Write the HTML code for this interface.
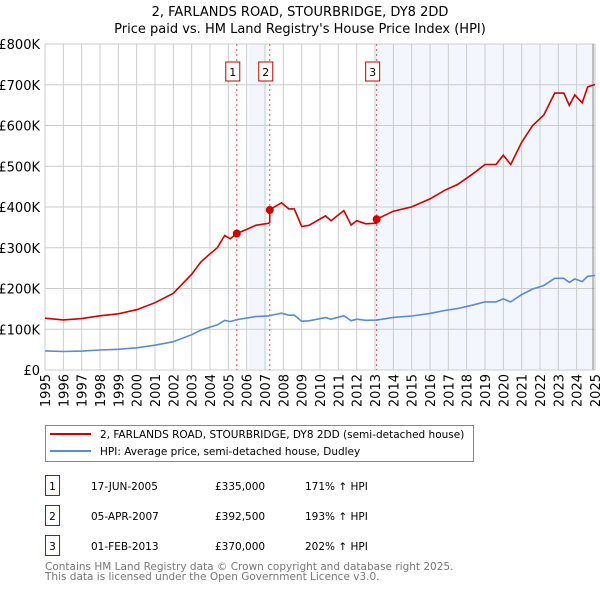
<!DOCTYPE html>
<html><head><meta charset="utf-8"><style>
body{margin:0;background:#fff;font-family:"DejaVu Sans","Liberation Sans",sans-serif;}
#wrap{position:relative;width:600px;height:590px;overflow:hidden;}
svg text{font-family:"DejaVu Sans","Liberation Sans",sans-serif;}
</style></head><body>
<div id="wrap">
<svg id="chart" width="600" height="590"></svg>
</div>
<script>
const yTicks=[0,100,200,300,400,500,600,700,800];
const yTickLabels=["£0","£100K","£200K","£300K","£400K","£500K","£600K","£700K","£800K"];
const years=[1995,1996,1997,1998,1999,2000,2001,2002,2003,2004,2005,2006,2007,2008,2009,2010,2011,2012,2013,2014,2015,2016,2017,2018,2019,2020,2021,2022,2023,2024,2025];
const hpiT=[1995,1996,1997,1998,1999,2000,2001,2002,2003,2003.5,2004,2004.4,2004.8,2005.1,2005.46,2006,2006.5,2007.2,2007.5,2007.9,2008.3,2008.6,2009.0,2009.4,2010.3,2010.6,2011.3,2011.7,2012,2012.5,2013.09,2014,2015,2016,2016.8,2017.5,2018.3,2019,2019.6,2020,2020.4,2021,2021.6,2022.2,2022.8,2023.3,2023.6,2023.9,2024.3,2024.6,2025];
const hpiV=[46.9,45.4,46.5,49.1,50.9,54.6,60.9,69.4,86.7,97.8,105.2,110.7,121.8,118.8,123.6,127.3,131,132.8,136,139.5,134.4,134.4,119.7,120.7,128.6,124.6,133,121,124.6,122,122.5,129,132.5,139,146,150.7,159,167,167,174.5,167,185,198.7,207,225,225,215,223.5,217,230,232];
const saleT=[2005.46,2007.26,2013.09];
const saleV=[335,392.5,370];
const saleLabels=["1","2","3"];
const saleDates=["17-JUN-2005","05-APR-2007","01-FEB-2013"];
const salePrices=["£335,000","£392,500","£370,000"];
const salePct=["171% ↑ HPI","193% ↑ HPI","202% ↑ HPI"];

const X0=45,X1=595,Y0=370,Y1=44;
const xs=t=>X0+(t-1995)/(2025-1995)*(X1-X0);
const ys=v=>Y0-v/800*(Y0-Y1);
const svg=document.getElementById('chart');
const NS='http://www.w3.org/2000/svg';
function mk(tag,at,txt){const e=document.createElementNS(NS,tag);for(const k in at)e.setAttribute(k,at[k]);if(txt!==undefined)e.textContent=txt;svg.appendChild(e);return e;}
function hpiAt(t){for(let i=0;i<hpiT.length-1;i++){if(t<=hpiT[i+1]){const f=(t-hpiT[i])/(hpiT[i+1]-hpiT[i]);return hpiV[i]+f*(hpiV[i+1]-hpiV[i]);}}return hpiV[hpiV.length-1];}

let e;
e=mk('text',{x:300,y:16,'text-anchor':'middle','font-size':13,fill:'#000'},'2, FARLANDS ROAD, STOURBRIDGE, DY8 2DD');

e=mk('text',{x:300,y:33,'text-anchor':'middle','font-size':13,fill:'#000'},"Price paid vs. HM Land Registry's House Price Index (HPI)");


e=mk('rect',{x:xs(2006.1),y:Y1,width:xs(2007.1)-xs(2006.1),height:Y0-Y1,fill:'#eef2fb',opacity:0.7});

e=mk('rect',{x:xs(saleT[2]),y:Y1,width:X1-xs(saleT[2]),height:Y0-Y1,fill:'#eef2fb',opacity:0.7});


yTicks.forEach((v,i)=>{
  e=mk('line',{x1:X0,x2:X1,y1:ys(v),y2:ys(v),stroke:'#cccccc','stroke-width':1});
  
  e=mk('text',{x:40,y:ys(v)+5,'text-anchor':'end','font-size':13,fill:'#000'},yTickLabels[i]);
  
});
years.forEach(y=>{
  e=mk('line',{x1:xs(y),x2:xs(y),y1:Y1,y2:Y0,stroke:'#cccccc','stroke-width':1});
  
  e=mk('text',{x:0,y:0,'text-anchor':'end','font-size':13,fill:'#000',transform:`translate(${xs(y)+5},374) rotate(-90)`},String(y));
  
});
e=mk('line',{x1:X1-2,x2:X1-2,y1:Y1,y2:Y0,stroke:'#888','stroke-width':1});


saleT.forEach((t,i)=>{
  e=mk('line',{x1:xs(t),x2:xs(t),y1:Y1,y2:Y0,stroke:'#e05050','stroke-width':1,'stroke-dasharray':'2,3'});
  
  e=mk('rect',{x:xs(t)-11,y:62,width:14,height:19,fill:'#fff',stroke:'#c00000','stroke-width':1});
  
  e=mk('text',{x:xs(t)-4,y:76,'text-anchor':'middle','font-size':11,fill:'#000'},saleLabels[i]);
  
});

let d='';hpiT.forEach((t,i)=>{d+=(i?'L':'M')+xs(t).toFixed(1)+','+ys(hpiV[i]).toFixed(1);});
e=mk('path',{d:d,fill:'none',stroke:'#5b8bd0','stroke-width':1.6});


function factorAt(t){let k=0;for(let i=0;i<saleT.length;i++){if(t>=saleT[i])k=i;}return saleV[k]/hpiAt(saleT[k]);}
const pts=[];
hpiT.forEach(t=>pts.push(t));saleT.forEach(t=>{pts.push(t-0.001);pts.push(t);});
pts.sort((a,b)=>a-b);
d='';pts.forEach((t,i)=>{const v=hpiAt(t)*factorAt(t);d+=(i?'L':'M')+xs(t).toFixed(1)+','+ys(v).toFixed(1);});
e=mk('path',{d:d,fill:'none',stroke:'#cc0000','stroke-width':1.6});

saleT.forEach((t,i)=>{
  e=mk('circle',{cx:xs(t),cy:ys(saleV[i]),r:4,fill:'#cc0000'});
  
});

e=mk('rect',{x:45.5,y:425.5,width:428,height:36,fill:'#fff',stroke:'#888','stroke-width':1});

e=mk('line',{x1:50,x2:91,y1:434,y2:434,stroke:'#cc0000','stroke-width':2});

e=mk('text',{x:100,y:438,'font-size':10.5,fill:'#000'},'2, FARLANDS ROAD, STOURBRIDGE, DY8 2DD (semi-detached house)');

e=mk('line',{x1:50,x2:91,y1:451,y2:451,stroke:'#5b8bd0','stroke-width':2});

e=mk('text',{x:100,y:455,'font-size':10.5,fill:'#000'},'HPI: Average price, semi-detached house, Dudley');


saleLabels.forEach((l,i)=>{
  const y=476+i*30;
  e=mk('rect',{x:45.5,y:y-0.5,width:14,height:20,fill:'#fff',stroke:'#c00000','stroke-width':1});
  
  e=mk('text',{x:52.5,y:y+14,'text-anchor':'middle','font-size':10.5,fill:'#000'},l);
  
  e=mk('text',{x:91,y:y+14,'font-size':10.5,fill:'#000'},saleDates[i]);
  
  e=mk('text',{x:215,y:y+14,'font-size':10.5,fill:'#000'},salePrices[i]);
  
  e=mk('text',{x:305,y:y+14,'font-size':10.5,fill:'#000'},salePct[i]);
  
});
e=mk('text',{x:45,y:570,'font-size':10.5,fill:'#777'},'Contains HM Land Registry data © Crown copyright and database right 2025.');

e=mk('text',{x:45,y:580,'font-size':10.5,fill:'#777'},'This data is licensed under the Open Government Licence v3.0.');

</script>
</body></html>
